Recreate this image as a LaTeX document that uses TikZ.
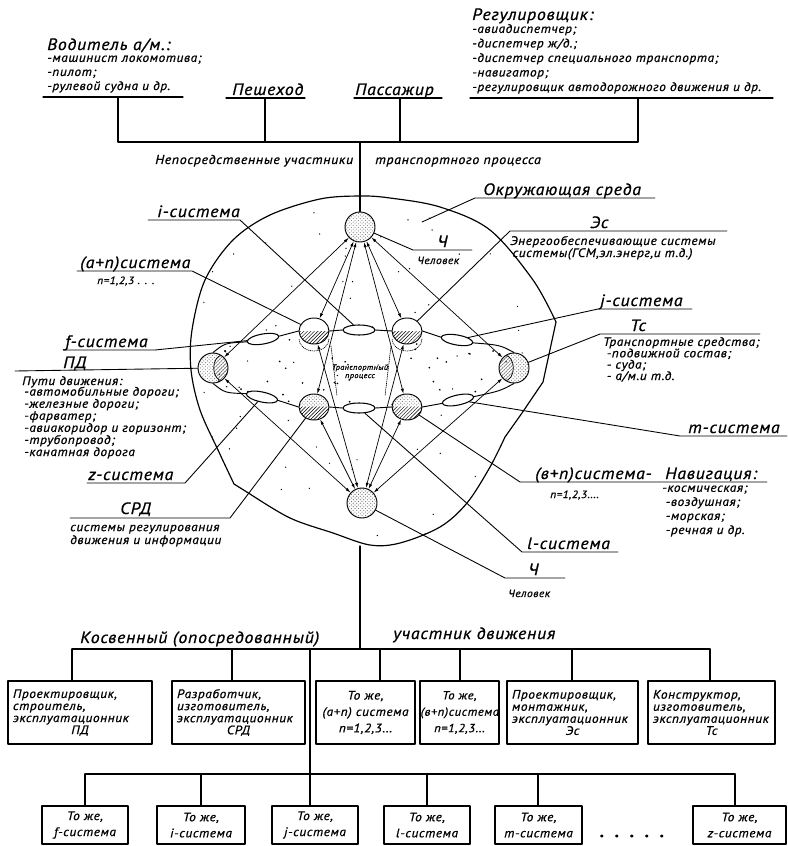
\documentclass[tikz,border=0pt]{standalone}
\usepackage{fontspec}
\newfontfamily\gost{PT Sans}[FakeStretch=1.08,LetterSpace=5,FakeBold=0.8]
\newcommand\gf[2]{\gost\itshape\fontsize{#1}{#2}\selectfont}
\usetikzlibrary{arrows.meta,patterns,calc,shapes.geometric}
\begin{document}
\begin{tikzpicture}[x=0.03cm,y=-0.03cm,line cap=round,line join=round,
  ln/.style={line width=1pt},
  thinl/.style={line width=0.75pt},
  arw/.style={line width=0.6pt,{Latex[length=4.5pt,width=2.6pt]}-{Latex[length=4.5pt,width=2.6pt]}},
  lbl/.style={inner sep=0pt,anchor=base west,align=left},
  big/.style={font=\gf{14}{16}},
  sml/.style={font=\gf{9}{10.5}},
  pole/.style={circle,draw,line width=0.8pt,minimum size=0.9cm,inner sep=0pt,fill=white,pattern=crosshatch dots,pattern color=black!55},
  hatA/.style={ellipse,draw,line width=0.8pt,minimum width=0.9cm,minimum height=0.78cm,inner sep=0pt,fill=white,
    path picture={\fill[pattern=north east lines] (path picture bounding box.west) rectangle (path picture bounding box.south east);}},
  hatS/.style={ellipse,draw,line width=0.8pt,minimum width=0.9cm,minimum height=0.78cm,inner sep=0pt,fill=white,
    path picture={\fill[pattern=crosshatch dots,pattern color=black!55] (path picture bounding box.north west) rectangle (path picture bounding box.east);
                  \fill[pattern=north east lines] (path picture bounding box.west) rectangle (path picture bounding box.south east);}},
  link/.style={ellipse,draw,line width=0.9pt,minimum width=0.96cm,minimum height=0.3cm,inner sep=0pt,fill=white},
  box/.style={draw,line width=1pt,inner xsep=0.15cm,inner ysep=0pt,align=left},
  sbox/.style={draw,line width=1pt,inner sep=0pt,align=center,minimum height=1.14cm,font=\gf{10.5}{13.7}},
]
\useasboundingbox (0,0) rectangle (787,846);

% ---------- environment blob ----------
\def\blobpath{plot[smooth,tension=0.55] coordinates {(556,322) (533,280) (490,230) (440,207) (390,198) (360,196) (320,199) (270,215) (233,240) (205,280) (192,330) (191,370) (200,410) (218,450) (234,484)} -- plot[smooth,tension=0.55] coordinates {(250,494) (290,518) (333,533) (370,545) (400,543) (440,527) (467,503) (490,467) (505,437)} -- (522,413) -- (543,382) -- cycle}
\draw[line width=1pt] \blobpath;
\pgfmathsetseed{7}
\begin{scope}
  \clip \blobpath;
  \foreach \k in {1,...,80}{
    \pgfmathsetmacro\xx{190+370*rnd}\pgfmathsetmacro\yy{195+352*rnd}
    \fill (\xx,\yy) circle[radius=0.6pt];}
\end{scope}
\begin{scope}
  \clip (213,353) -- (248,342) -- (299,331) -- (422,331) -- (471,343) -- (514,353) -- (529,368) -- (514,383) -- (472,397) -- (422,407) -- (299,407) -- (248,394) -- (213,383) -- (198,368) -- cycle;
  \foreach \k in {1,...,55}{
    \pgfmathsetmacro\xx{200+330*rnd}\pgfmathsetmacro\yy{332+75*rnd}
    \fill (\xx,\yy) circle[radius=0.8pt];}
\end{scope}

% ---------- circles ----------
\node[pole] (T) at (360,227) {};
\node[pole] (B) at (362,503) {};
\node[pole,path picture={\fill[pattern=north east lines] ([xshift=0.27cm]path picture bounding box.center) ellipse [x radius=0.25cm,y radius=0.38cm];
   \draw[line width=0.6pt] ([xshift=0.27cm]path picture bounding box.center) ellipse [x radius=0.25cm,y radius=0.38cm];}] (L) at (213,368) {};
\node[pole,path picture={\fill[pattern=north east lines] ([xshift=-0.27cm]path picture bounding box.center) ellipse [x radius=0.25cm,y radius=0.38cm];
   \draw[line width=0.6pt] ([xshift=-0.27cm]path picture bounding box.center) ellipse [x radius=0.25cm,y radius=0.38cm];}] (R) at (514,368) {};
\node[hatA] (A) at (314,331) {};
\node[hatA] (E) at (407,331) {};
\node[hatS] (S) at (314,407) {};
\node[hatS] (N) at (407,407) {};
\node[link] (ei) at (359,330) {};
\node[link] (el) at (359,408) {};
\node[link,rotate=10] (ef) at (263,339) {};
\node[link,rotate=-10] (ej) at (457,340) {};
\node[link,rotate=-12] (ez) at (262,397) {};
\node[link,rotate=12] (em) at (458,400) {};

% shadows and transport process
\draw[densely dotted,line width=0.6pt] ($(A)+(15,8)$) arc[start angle=0,end angle=-180,x radius=0.45cm,y radius=0.36cm];
\draw[densely dotted,line width=0.6pt] ($(E)+(15,8)$) arc[start angle=0,end angle=-180,x radius=0.45cm,y radius=0.36cm];
\coordinate (q1) at (331,346); \coordinate (q2) at (337,396);
\coordinate (q3) at (391,346); \coordinate (q4) at (385,396);
\draw[densely dotted,line width=0.6pt] (q1) -- (q2);
\draw[densely dotted,line width=0.6pt] (q3) -- (q4);
\node[font=\gf{6.5}{7},align=center,inner sep=0pt] (tp) at (360,372) {Транспортный\\процесс};

% ring
\draw[line width=0.8pt] (L.north) .. controls (225,343) .. (ef.west);
\draw[line width=0.8pt] (ef.east) -- (A.west);
\draw[line width=0.8pt] (A.east) -- (ei.west);
\draw[line width=0.8pt] (ei.east) -- (E.west);
\draw[line width=0.8pt] (E.east) -- (ej.west);
\draw[line width=0.8pt] (ej.east) .. controls (500,345) .. (R.north);
\draw[line width=0.8pt] (L.south) .. controls (225,393) .. (ez.west);
\draw[line width=0.8pt] (ez.east) -- (S.west);
\draw[line width=0.8pt] (S.east) -- (el.west);
\draw[line width=0.8pt] (el.east) -- (N.west);
\draw[line width=0.8pt] (N.east) -- (em.west);
\draw[line width=0.8pt] (em.east) .. controls (500,391) .. (R.south);

% arrows from poles
\foreach \n in {L,A,S,N,E,R}{\draw[arw] (T) -- (\n); \draw[arw] (B) -- (\n);}

% ---------- top participants ----------
\node[lbl,big] (drv) at (47,50) {Водитель а/м.:};
\node[lbl,font=\gf{10.5}{12}] (drvl) at (47,90) {-машинист локомотива;\\-пилот;\\-рулевой судна и др.};
\node[lbl,big] (ped) at (232,95) {Пешеход};
\node[lbl,big] (pas) at (355,95) {Пассажир};
\node[lbl,big] (reg) at (472,20) {Регулировщик:};
\node[lbl,font=\gf{10.5}{12.4}] (regl) at (472,91) {-авиадиспетчер;\\-диспетчер ж/д.;\\-диспетчер специального транспорта;\\-навигатор;\\-регулировщик автодорожного движения и др.};
\draw[ln] (43,97) -- (183,97);
\draw[ln] (226,98) -- (305,98);
\draw[ln] (354,98) -- (442,98);
\draw[ln] (470,98) -- (773,98);
\coordinate (tb) at (360,142);
\coordinate (u1) at (118,97); \coordinate (u2) at (265,98);
\coordinate (u3) at (400,98); \coordinate (u4) at (638,98);
\draw[ln] (u1) -- (u1 |- tb) -- (u4 |- tb) -- (u4);
\draw[ln] (u2) -- (u2 |- tb);
\draw[ln] (u3) -- (u3 |- tb);
\draw[ln] (tb) -- (T);
\node[lbl,font=\gf{11}{12}] (np1) at (155,164) {Непосредственные участники};
\node[lbl,font=\gf{11}{12}] (np2) at (375,164) {транспортного процесса};

% ---------- left labels ----------
\node[lbl,big] (li) at (157,217) {i-система};
\draw[thinl] (148,220) -- (240,220) -- (ei);
\node[lbl,big] (la) at (80,268) {(а+n)система};
\node[lbl,sml] (lan) at (97,284) {n=1,2,3 . . .};
\draw[thinl] (77,271) -- (192,271) -- (A);
\node[lbl,big] (lf) at (65,347) {f-система};
\draw[thinl] (63,350) -- (155,350) -- (ef);
\node[lbl,big] (lpd) at (63,368) {ПД};
\draw[thinl] (15,371) -- (L);
\node[lbl,font=\gf{10.5}{10.3}] (lpdh) at (22,385) {Пути движения:};
\node[lbl,font=\gf{10.5}{10.3}] (lpdl) at (24,456) {-автомобильные дороги;\\-железные дороги;\\-фарватер;\\-авиакоридор и горизонт;\\-трубопровод;\\-канатная дорога};
\node[lbl,big] (lz) at (88,480) {z-система};
\draw[thinl] (87,483) -- (185,483) -- (ez);
\node[lbl,big] (lsrd) at (120,514) {СРД};
\draw[thinl] (70,518) -- (230,518) -- (S);
\node[lbl,font=\gf{10.5}{11}] (lsrdl) at (70,544) {системы регулирования\\движения и информации};

% ---------- right labels ----------
\node[lbl,big] (env) at (483,195) {Окружающая среда};
\coordinate (envp) at (422,222);
\draw[thinl] (655,198) -- (475,198) -- (envp);
\node[lbl,big,fill=white] (ch1) at (437,247) {Ч};
\node[lbl,sml,fill=white] (ch1l) at (417,264) {Человек};
\draw[thinl] (472,250) -- (413,250) -- (T);
\node[lbl,big] (es) at (590,228) {Эс};
\draw[thinl] (727,231) -- (510,231) -- (E);
\node[lbl,font=\gf{10.5}{10.3}] (esl) at (510,257) {Энергообеспечивающие системы\\\hspace*{2pt}системы(ГСМ,эл.энерг,и т.д.)};
\node[lbl,big] (lj) at (600,306) {j-система};
\draw[thinl] (692,309) -- (598,309) -- (ej);
\node[lbl,big] (tc) at (630,331) {Тс};
\draw[thinl] (760,334) -- (600,334) -- (R);
\node[lbl,font=\gf{10.5}{9.7}] (tcl) at (603,380) {Транспортные средства;\\\hspace*{3pt}-подвижной состав;\\\hspace*{3pt}- суда;\\\hspace*{3pt}- а/м.и т.д.};
\node[lbl,big] (lm) at (688,433) {m-система};
\draw[thinl] (787,436) -- (680,436) -- (em);
\node[lbl,big] (lb) at (535,479) {(в+n)система-};
\node[lbl,big] (nav) at (665,479) {Навигация:};
\draw[thinl] (767,482) -- (520,482) -- (N);
\node[lbl,sml] (lbn) at (550,498) {n=1,2,3....};
\node[lbl,font=\gf{10.5}{12}] (navl) at (662,534) {-космическая;\\\hspace*{3pt}-воздушная;\\\hspace*{3pt}-морская;\\\hspace*{3pt}-речная и др.};
\node[lbl,big] (ll) at (527,549) {l-система};
\draw[thinl] (618,552) -- (522,552) -- (el);
\node[lbl,big] (ch2) at (528,575) {Ч};
\draw[thinl] (565,578) -- (505,578) -- (B);
\node[lbl,sml] (ch2l) at (508,597) {Человек};

% ---------- indirect participants ----------
\node[lbl,big] (kos) at (80,643) {Косвенный (опосредованный)};
\node[lbl,big] (uch) at (393,639) {участник движения};
\coordinate (bb) at (360,546);
\coordinate (k0) at (360,649);
\draw[ln] (bb) -- (k0);
\coordinate (k1) at (72,649); \coordinate (k2) at (232,649); \coordinate (kk) at (310,649);
\coordinate (k3) at (380,649); \coordinate (k4) at (460,649); \coordinate (k5) at (572,649);
\coordinate (k6) at (710,649);
\draw[ln] (k1) -- (k6);

\node[box,text width=4.02cm,minimum height=1.89cm,font=\gf{10.5}{10.3}] (b1) at (80,712.5) {Проектировщик,\\строитель,\\эксплуатационник\\\hspace*{\fill}ПД\hspace*{\fill}\null};
\node[box,text width=3.69cm,minimum height=1.89cm,font=\gf{10.5}{10.3}] (b2) at (238.5,712.5) {Разработчик,\\изготовитель,\\эксплуатационник\\\hspace*{\fill}СРД\hspace*{\fill}\null};
\node[box,align=center,text width=2.67cm,minimum height=1.89cm,font=\gf{10.5}{14}] (b3) at (365.5,712.5) {То же,\\(а+n) система\\n=1,2,3...};
\node[box,align=center,inner xsep=0.02cm,text width=2.33cm,minimum height=1.89cm,font=\gf{10}{14}] (b4) at (459.5,712.5) {То же,\\(в+n)система\\n=1,2,3...};
\node[box,text width=3.63cm,minimum height=1.89cm,font=\gf{10.5}{10.3}] (b5) at (572.5,712.5) {Проектировщик,\\монтажник,\\эксплуатационник\\\hspace*{\fill}Эс\hspace*{\fill}\null};
\node[box,text width=3.51cm,minimum height=1.89cm,font=\gf{10.5}{10.3}] (b6) at (711.5,712.5) {Конструктор,\\изготовитель,\\эксплуатационник\\\hspace*{\fill}Тс\hspace*{\fill}\null};
\foreach \k/\b in {k1/b1,k2/b2,k3/b3,k4/b4,k5/b5,k6/b6}{\draw[ln] (\k) -- (\k |- \b.north);}

\coordinate (m0) at (310,774);
\draw[ln] (kk) -- (m0);
\coordinate (m1) at (85,774); \coordinate (m2) at (201,774); \coordinate (m3) at (310,774);
\coordinate (m4) at (427,774); \coordinate (m5) at (538,774); \coordinate (m6) at (735,774);
\draw[ln] (m1) -- (m6);
\node[sbox,minimum width=2.58cm] (d1) at (85,825) {То же,\\f-система};
\node[sbox,minimum width=2.64cm] (d2) at (201,825) {То же,\\i-система};
\node[sbox,minimum width=2.58cm] (d3) at (315,825) {То же,\\j-система};
\node[sbox,minimum width=2.58cm] (d4) at (427,825) {То же,\\l-система};
\node[sbox,minimum width=2.61cm] (d5) at (538.5,825) {То же,\\m-система};
\node[sbox,minimum width=2.79cm] (d6) at (739.5,825) {То же,\\z-система};
\foreach \m/\d in {m1/d1,m2/d2,m3/d3,m4/d4,m5/d5,m6/d6}{\draw[ln] (\m) -- (\m |- \d.north);}
\node[inner sep=0pt,font=\gf{14}{16}\bfseries] (dots) at (632,836) {.\hspace{9pt}.\hspace{9pt}.\hspace{9pt}.\hspace{9pt}.};
\end{tikzpicture}
\end{document}
